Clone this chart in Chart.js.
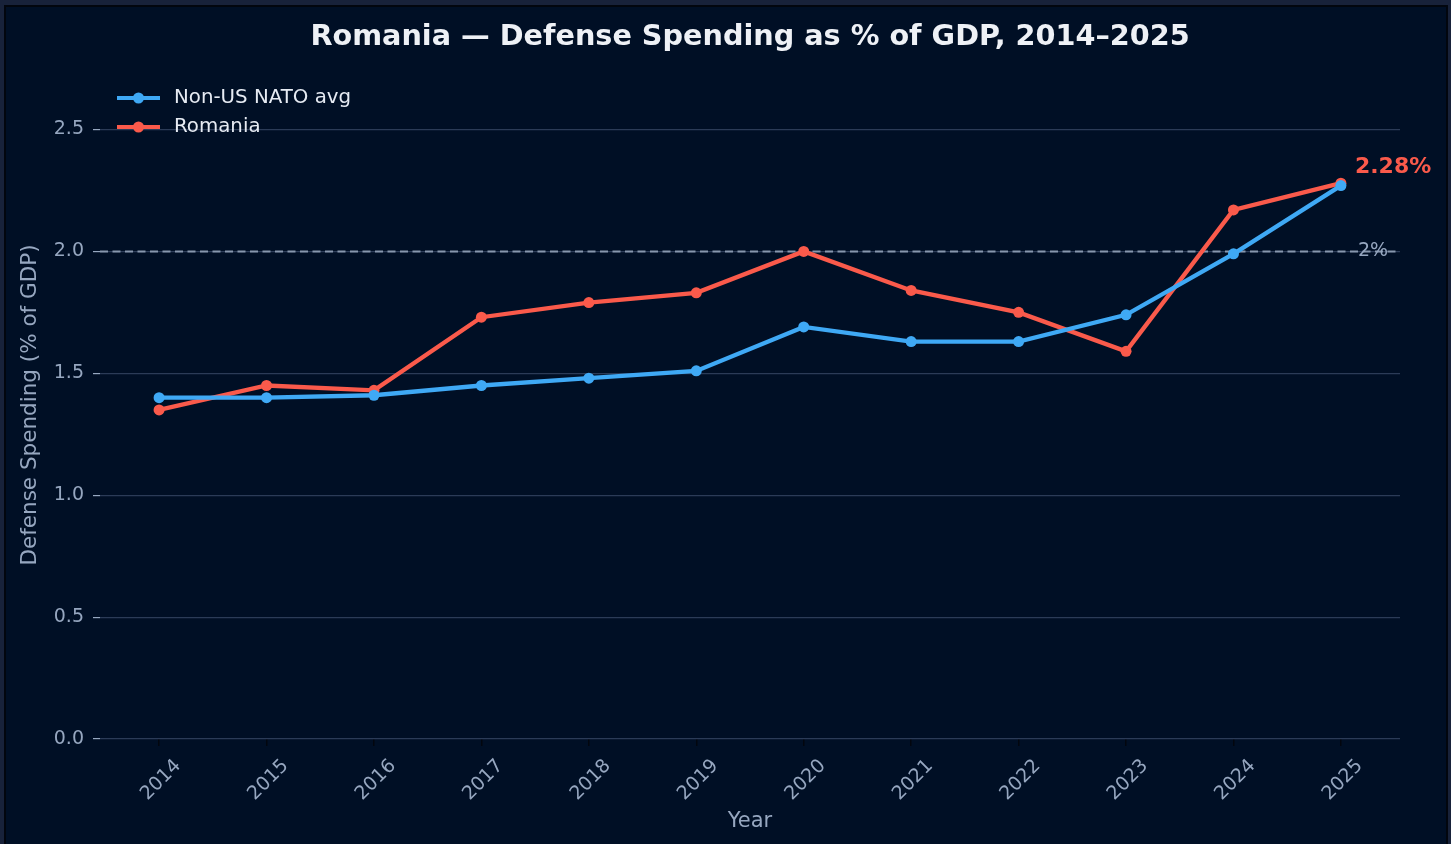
<!DOCTYPE html>
<html>
<head>
<meta charset="utf-8">
<script src="https://cdn.jsdelivr.net/npm/chart.js@4.4.1/dist/chart.umd.min.js"></script>
<style>
  html, body { margin: 0; padding: 0; background: #18223a; overflow: hidden; }
  #frame { position: absolute; left: 4px; top: 5px; width: 1440px; height: 850px;
           border: 2px solid #02060e; background: #000f25; }
  #wrap { position: absolute; left: 0; top: 0; width: 1451px; height: 844px; }
</style>
</head>
<body>
<div id="frame"></div>
<div id="wrap"><canvas id="chart" width="1451" height="844"></canvas></div>
<script>
// Tahun dan nilai (% PDB)
const years = [2014, 2015, 2016, 2017, 2018, 2019, 2020, 2021, 2022, 2023, 2024, 2025];
const natoAvg = [1.40, 1.40, 1.41, 1.45, 1.48, 1.51, 1.69, 1.63, 1.63, 1.74, 1.99, 2.27];
const romania = [1.35, 1.45, 1.43, 1.73, 1.79, 1.83, 2.00, 1.84, 1.75, 1.59, 2.17, 2.28];
const yTicks = [0.0, 0.5, 1.0, 1.5, 2.0, 2.5];
const targetLine = 2.0;

const FONT = "'DejaVu Sans', sans-serif";
const BLUE = "#3fa9f5";
const RED = "#fa5a4b";
const MUTED = "#96a7c0";

// garis target 2% (di bawah garis data)
const targetPlugin = {
  id: "target",
  beforeDatasetsDraw(chart) {
    const { ctx, chartArea, scales } = chart;
    const y = scales.y.getPixelForValue(targetLine);
    ctx.save();
    ctx.strokeStyle = "#8797ae";
    ctx.lineWidth = 2;
    ctx.setLineDash([8, 4.5]);
    ctx.beginPath();
    ctx.moveTo(chartArea.left, y);
    ctx.lineTo(chartArea.right, y);
    ctx.stroke();
    ctx.setLineDash([]);
    ctx.fillStyle = MUTED;
    ctx.font = "19px " + FONT;
    ctx.textAlign = "left";
    ctx.textBaseline = "middle";
    ctx.fillText("2%", chartArea.right - 42, y);
    ctx.restore();
  },
};

// judul, legenda, label nilai akhir
const overlayPlugin = {
  id: "overlay",
  afterDraw(chart) {
    const { ctx, chartArea, scales } = chart;
    ctx.save();
    ctx.fillStyle = "#eef1f6";
    ctx.font = "bold 28.7px " + FONT;
    ctx.textAlign = "center";
    ctx.textBaseline = "middle";
    ctx.fillText("Romania \u2014 Defense Spending as % of GDP, 2014\u20132025",
      (chartArea.left + chartArea.right) / 2, 37.5);

    // legenda
    const items = [["Non-US NATO avg", BLUE], ["Romania", RED]];
    items.forEach(([label, color], i) => {
      const y = 98 + i * 29;
      ctx.strokeStyle = color;
      ctx.lineWidth = 4;
      ctx.beginPath();
      ctx.moveTo(117, y);
      ctx.lineTo(160, y);
      ctx.stroke();
      ctx.fillStyle = color;
      ctx.beginPath();
      ctx.arc(138.5, y, 5.5, 0, Math.PI * 2);
      ctx.fill();
      ctx.fillStyle = "#e6ebf3";
      ctx.font = "19.8px " + FONT;
      ctx.textAlign = "left";
      ctx.fillText(label, 174, y);
    });

    // label nilai terakhir Romania
    const last = romania.length - 1;
    const px = scales.x.getPixelForValue(years[last]);
    const py = scales.y.getPixelForValue(romania[last]);
    ctx.fillStyle = RED;
    ctx.font = "bold 22px " + FONT;
    ctx.textAlign = "left";
    ctx.fillText(romania[last].toFixed(2) + "%", px + 14, py - 16);
    ctx.restore();
  },
};

const ctx = document.getElementById("chart").getContext("2d");
new Chart(ctx, {
  type: "line",
  data: {
    datasets: [
      {
        label: "Non-US NATO avg",
        data: years.map((yr, i) => ({ x: yr, y: natoAvg[i] })),
        borderColor: BLUE,
        backgroundColor: BLUE,
        borderWidth: 4.3,
        pointRadius: 5.5,
        pointBorderWidth: 0,
        tension: 0,
      },
      {
        label: "Romania",
        data: years.map((yr, i) => ({ x: yr, y: romania[i] })),
        borderColor: RED,
        backgroundColor: RED,
        borderWidth: 4.3,
        pointRadius: 5.5,
        pointBorderWidth: 0,
        tension: 0,
      },
    ],
  },
  options: {
    responsive: false,
    animation: false,
    layout: { padding: { top: 71, right: 51, bottom: 0, left: 0 } },
    plugins: {
      legend: { display: false },
      title: { display: false },
      tooltip: { enabled: false },
    },
    scales: {
      x: {
        type: "linear",
        min: 2013.45,
        max: 2025.55,
        afterFit: (scale) => { scale.height = 105; },
        afterBuildTicks: (scale) => { scale.ticks = years.map((v) => ({ value: v })); },
        border: { display: false },
        grid: { drawOnChartArea: false, tickColor: "#02060e", tickLength: 7, lineWidth: 1.5 },
        ticks: {
          autoSkip: false,
          minRotation: 45,
          maxRotation: 45,
          labelOffset: 19,
          padding: 9,
          color: MUTED,
          font: { family: FONT, size: 19 },
          callback: (v) => String(v),
        },
        title: {
          display: true,
          text: "Year",
          color: MUTED,
          font: { family: FONT, size: 21 },
          padding: { top: 0, bottom: 10 },
        },
      },
      y: {
        min: 0,
        max: 2.74,
        afterFit: (scale) => { scale.width = 100; },
        afterBuildTicks: (scale) => { scale.ticks = yTicks.map((v) => ({ value: v })); },
        border: { display: false },
        grid: { color: "#2b3b57", lineWidth: 1.2, tickColor: MUTED, tickLength: 7 },
        ticks: {
          padding: 9,
          color: MUTED,
          font: { family: FONT, size: 19 },
          callback: (v) => v.toFixed(1),
        },
        title: {
          display: true,
          text: "Defense Spending (% of GDP)",
          color: MUTED,
          font: { family: FONT, size: 21.5 },
          padding: { top: 18, bottom: 0 },
        },
      },
    },
  },
  plugins: [targetPlugin, overlayPlugin],
});
</script>
</body>
</html>
